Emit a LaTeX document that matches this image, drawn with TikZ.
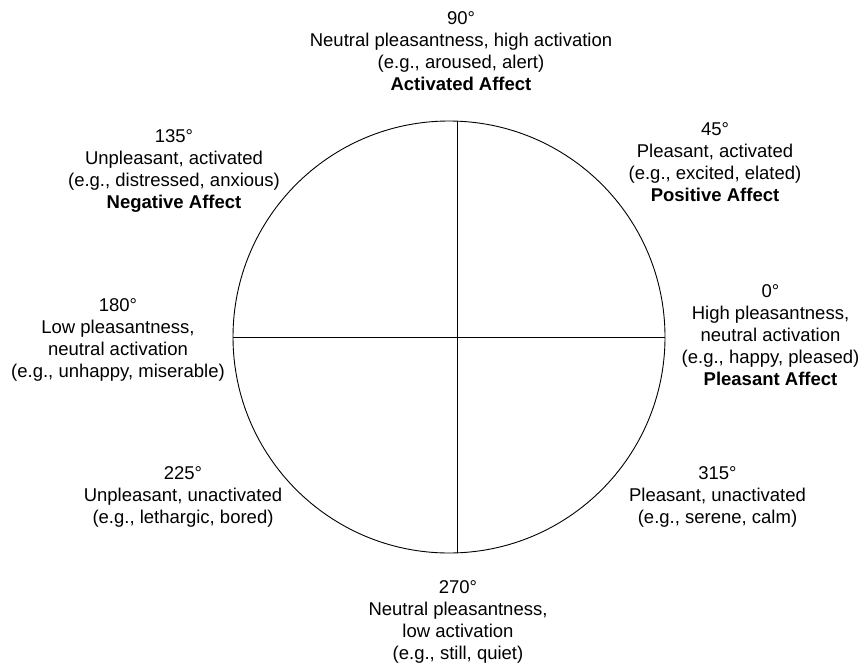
\documentclass[tikz,border=0pt]{standalone}
\usepackage{fontspec}
\setmainfont{Liberation Sans}
\begin{document}
\begin{tikzpicture}[x=1pt,y=-1pt,
  lbl/.style={align=center,inner sep=0pt,font=\fontsize{18.5}{22}\selectfont},
  wheelline/.style={line width=0.9pt,black}]
\useasboundingbox (0,0) rectangle (861,666);
\node[draw,circle,line width=0.9pt,minimum size=432pt,inner sep=0pt] (wheel) at (449,337) {};
\coordinate (vtop) at (457.5,121.2);
\coordinate (vbot) at (457.5,552.8);
\draw[wheelline] (wheel.west) -- (wheel.east);
\draw[wheelline] (vtop) -- (vbot);
\node[lbl] (a90) at (461,51) {90°\\Neutral pleasantness, high activation\\(e.g., aroused, alert)\\\textbf{Activated Affect}};
\node[lbl] (a135) at (174,171.5) {135°\\Unpleasant, activated\\(e.g., distressed, anxious)\\\textbf{Negative Affect}};
\node[lbl] (a45) at (715,162.5) {45°\\Pleasant, activated\\(e.g., excited, elated)\\\textbf{Positive Affect}};
\node[lbl] (a180) at (118,339.5) {180°\\Low pleasantness,\\neutral activation\\(e.g., unhappy, miserable)};
\node[lbl] (a0) at (770.5,335.5) {0°\\High pleasantness,\\neutral activation\\(e.g., happy, pleased)\\\textbf{Pleasant Affect}};
\node[lbl] (a225) at (183,496.5) {225°\\Unpleasant, unactivated\\(e.g., lethargic, bored)};
\node[lbl] (a315) at (717.5,497) {315°\\Pleasant, unactivated\\(e.g., serene, calm)};
\node[lbl] (a270) at (458,622) {270°\\Neutral pleasantness,\\low activation\\(e.g., still, quiet)};
\end{tikzpicture}
\end{document}
